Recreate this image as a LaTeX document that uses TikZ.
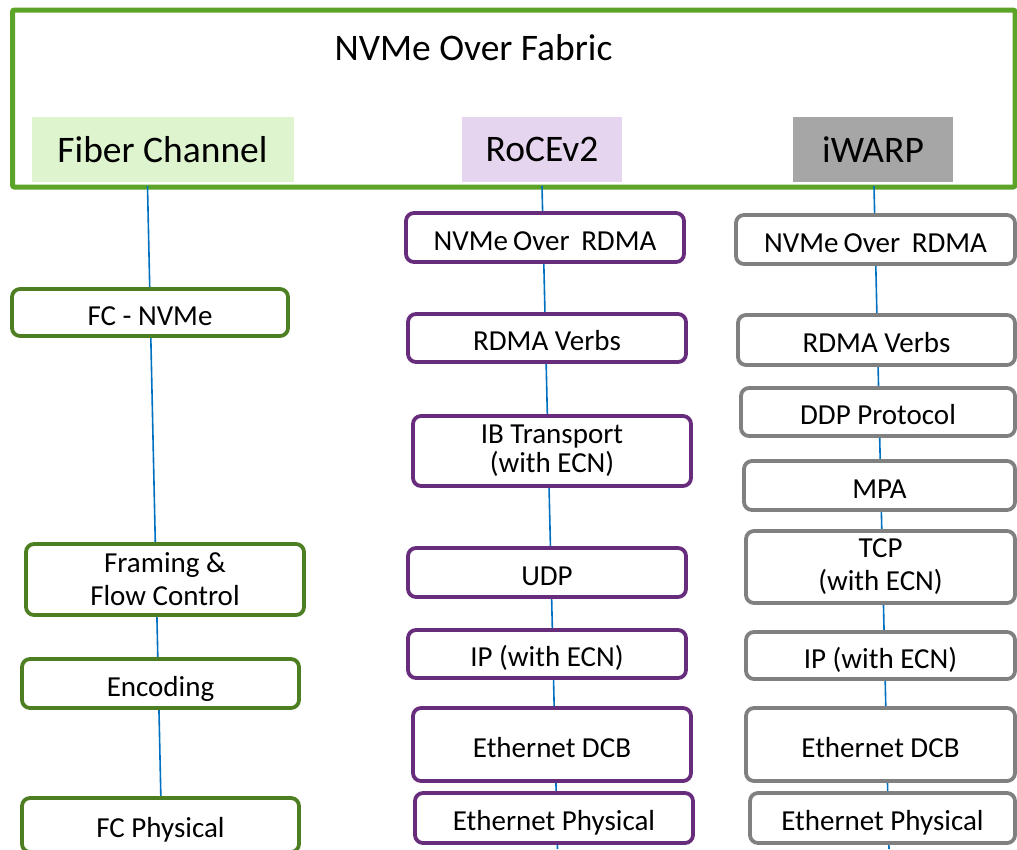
\documentclass[tikz,border=0pt]{standalone}
\usepackage{fontspec}
\setmainfont{Carlito}
\definecolor{framegreen}{RGB}{92,164,40}
\definecolor{fcfill}{RGB}{221,244,206}
\definecolor{rocefill}{RGB}{230,213,238}
\definecolor{iwarpfill}{RGB}{166,166,166}
\definecolor{fcgreen}{RGB}{78,126,34}
\definecolor{rocepurple}{RGB}{104,44,124}
\definecolor{iwarpgray}{RGB}{128,128,128}
\definecolor{linkblue}{RGB}{0,112,192}
\begin{document}
\begin{tikzpicture}[x=1pt,y=-1pt,
  bigtext/.style={font=\fontsize{37.5}{42}\selectfont},
  header/.style={rectangle, inner sep=0pt, bigtext,
    minimum width=262pt, minimum height=65pt},
  stack/.style={rectangle, rounded corners=8pt, line width=3.8pt, fill=white,
    inner sep=0pt, align=center, font=\fontsize{29}{33}\selectfont},
  oneline/.style={text height=25pt, text depth=0pt},
  fcbox/.style={stack, draw=fcgreen},
  rocebox/.style={stack, draw=rocepurple},
  iwarpbox/.style={stack, draw=iwarpgray},
  link/.style={draw=linkblue, line width=1.6pt}]
\useasboundingbox (0,0) rectangle (1017,849);

% outer frame with title
\node[draw=framegreen, line width=5pt, rounded corners=2pt, inner sep=0pt,
  minimum width=1002.5pt, minimum height=177pt] (fabric) at (513.75,98.5) {};
\node[bigtext] (title) at (473.5,47.5) {NVMe Over Fabric};

% transport headers
\node[header, fill=fcfill] (fiber) at (162.5,149.5) {Fiber Channel};
\node[header, fill=rocefill, minimum width=160pt] (roce) at (542,149.5) {RoCEv2};
\node[header, fill=iwarpfill, minimum width=160pt] (iwarp) at (873,149.5) {iWARP};

% column spines
\coordinate (fctop) at (147.5,186);
\coordinate (fcbot) at (162,849);
\coordinate (rocetop) at (542,186);
\coordinate (rocebot) at (557.5,849);
\coordinate (iwtop) at (874,186);
\coordinate (iwbot) at (889,849);
\draw[link] (fctop) -- (fcbot);
\draw[link] (rocetop) -- (rocebot);
\draw[link] (iwtop) -- (iwbot);

% Fiber Channel stack
\node[fcbox, oneline, minimum width=276pt, minimum height=47pt] (fcnvme) at (150,312.5) {FC - NVMe};
\node[fcbox, minimum width=278pt, minimum height=71pt] (framing) at (165,579.5) {Framing \&\\Flow Control};
\node[fcbox, oneline, minimum width=277pt, minimum height=49pt] (encoding) at (160.5,683.5) {Encoding};
\node[fcbox, oneline, minimum width=277pt, minimum height=54pt] (fcphys) at (160.5,825) {FC Physical};

% RoCEv2 stack
\node[rocebox, oneline, minimum width=278pt, minimum height=49pt] (r1) at (545,237.5) {NVMe\kern-1.5pt{} Over\kern5pt{} RDMA};
\node[rocebox, oneline, minimum width=278pt, minimum height=48pt] (r2) at (547,338) {RDMA Verbs};
\node[rocebox, minimum width=278pt, minimum height=70pt,
  font=\fontsize{29}{29}\selectfont] (r3) at (552,451) {IB Transport\\(with ECN)};
\node[rocebox, oneline, minimum width=278pt, minimum height=49pt] (r4) at (547,572.5) {UDP};
\node[rocebox, oneline, minimum width=278pt, minimum height=48pt] (r5) at (547,654) {IP (with ECN)};
\node[rocebox, oneline, minimum width=278pt, minimum height=73pt] (r6) at (552,744.5) {Ethernet DCB};
\node[rocebox, oneline, minimum width=278pt, minimum height=50pt] (r7) at (554,818) {Ethernet Physical};

% iWARP stack
\node[iwarpbox, oneline, minimum width=279pt, minimum height=49pt] (w1) at (875.5,239.5) {NVMe\kern-1.5pt{} Over\kern5pt{} RDMA};
\node[iwarpbox, oneline, minimum width=277pt, minimum height=50pt] (w2) at (876.5,340) {RDMA Verbs};
\node[iwarpbox, oneline, minimum width=274pt, minimum height=48pt] (w3) at (878,412) {DDP Protocol};
\node[iwarpbox, oneline, minimum width=271pt, minimum height=49pt] (w4) at (879.5,485.5) {MPA};
\node[iwarpbox, minimum width=269pt, minimum height=72pt] (w5) at (880.5,567) {TCP\\(with ECN)};
\node[iwarpbox, oneline, minimum width=269pt, minimum height=47pt] (w6) at (880.5,655.5) {IP (with ECN)};
\node[iwarpbox, oneline, minimum width=269pt, minimum height=73pt] (w7) at (880.5,744.5) {Ethernet DCB};
\node[iwarpbox, oneline, minimum width=265pt, minimum height=50pt] (w8) at (882.5,818) {Ethernet Physical};
\end{tikzpicture}
\end{document}
